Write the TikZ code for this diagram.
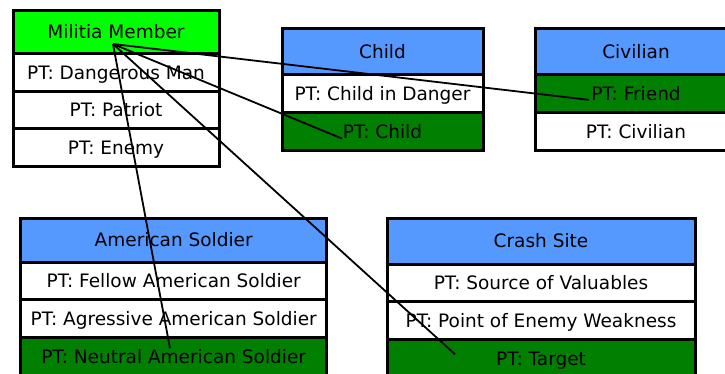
\documentclass[tikz,border=0pt]{standalone}
\usepackage{fontspec}
\setmainfont{DejaVu Sans}
\usetikzlibrary{positioning}
\definecolor{headgreen}{HTML}{00FF00}
\definecolor{headblue}{HTML}{5599FF}
\definecolor{ptgreen}{HTML}{007F00}
\begin{document}
\begin{tikzpicture}[x=1pt,y=-1pt,
    every node/.style={font=\fontsize{18.5}{22}\selectfont, text height=13.5pt, text depth=0pt, inner sep=0pt, outer sep=0pt},
    head/.style={draw, line width=3pt, minimum height=46pt, fill=headblue},
    row/.style={draw, line width=3pt, minimum height=37.7pt, fill=white},
    hit/.style={row, fill=ptgreen},
    link/.style={line width=1.8pt}]
  \clip (0,0) rectangle (725,374);
  % Militia Member
  \node[head, fill=headgreen, minimum width=206pt, minimum height=43pt] (mm) at (116,32) {Militia Member};
  \node[row, minimum width=206pt, below=0pt of mm] (mmA) {PT: Dangerous Man};
  \node[row, minimum width=206pt, below=0pt of mmA] (mmB) {PT: Patriot};
  \node[row, minimum width=206pt, below=0pt of mmB] (mmC) {PT: Enemy};
  % Child
  \node[head, minimum width=201pt] (child) at (382.5,52) {Child};
  \node[row, minimum width=201pt, below=0pt of child] (childA) {PT: Child in Danger};
  \node[hit, minimum width=201pt, below=0pt of childA] (childB) {PT: Child};
  % Civilian
  \node[head, minimum width=201pt] (civ) at (636,52) {Civilian};
  \node[hit, minimum width=201pt, below=0pt of civ] (civA) {PT: Friend};
  \node[row, minimum width=201pt, below=0pt of civA] (civB) {PT: Civilian};
  % American Soldier
  \node[head, minimum width=306pt, minimum height=44pt] (soldier) at (173.7,240) {American Soldier};
  \node[row, minimum width=306pt, below=0pt of soldier] (soldierA) {PT: Fellow American Soldier};
  \node[row, minimum width=306pt, below=0pt of soldierA] (soldierB) {PT: Agressive American Soldier};
  \node[hit, minimum width=306pt, below=0pt of soldierB] (soldierC) {PT: Neutral American Soldier};
  % Crash Site
  \node[head, minimum width=308pt] (crash) at (541,241) {Crash Site};
  \node[row, minimum width=308pt, below=0pt of crash] (crashA) {PT: Source of Valuables};
  \node[row, minimum width=308pt, below=0pt of crashA] (crashB) {PT: Point of Enemy Weakness};
  \node[hit, minimum width=308pt, below=0pt of crashB] (crashC) {PT: Target};
  % link ends
  \coordinate (src) at ([shift={(-3,12)}]mm.center);
  \coordinate (toFriend) at ([shift={(-47,6)}]civA.center);
  \coordinate (toChild) at ([shift={(-40.5,7)}]childB.center);
  \coordinate (toNeutral) at ([shift={(-3.7,-8)}]soldierC.center);
  \coordinate (toTarget) at ([shift={(-86,-4)}]crashC.center);
  \draw[link] (src) -- (toFriend);
  \draw[link] (src) -- (toChild);
  \draw[link] (src) -- (toNeutral);
  \draw[link] (src) -- (toTarget);
\end{tikzpicture}
\end{document}
